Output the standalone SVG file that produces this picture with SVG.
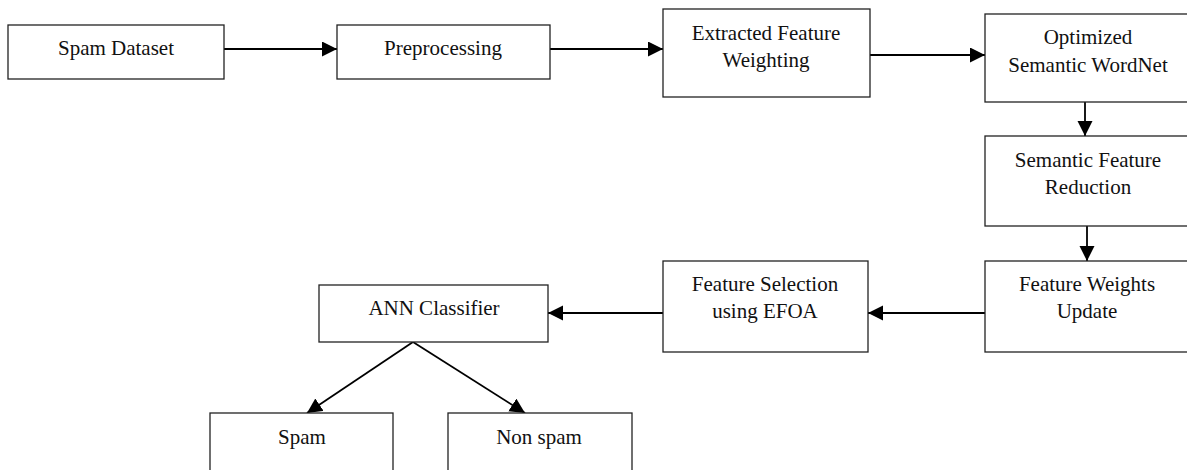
<svg xmlns="http://www.w3.org/2000/svg" width="1187" height="470" viewBox="0 0 1187 470">
<style>
.box{fill:#fff;stroke:#222;stroke-width:1.3}
.lbl{font-family:"Liberation Serif","Times New Roman",serif;font-size:21px;fill:#111;text-anchor:middle}
.con{stroke:#000;stroke-width:1.8;fill:none;marker-end:url(#ah)}
</style>
<defs>
<marker id="ah" markerUnits="userSpaceOnUse" markerWidth="16" markerHeight="16" refX="15" refY="7.5" orient="auto">
<path d="M0,0 L15,7.5 L0,15 z" fill="#000"/>
</marker>
</defs>
<rect width="1187" height="470" fill="#fff"/>
<g id="connectors">
<line class="con" x1="224" y1="49" x2="337" y2="49"/>
<line class="con" x1="550" y1="49" x2="663" y2="49"/>
<line class="con" x1="870" y1="55" x2="985" y2="55"/>
<line class="con" x1="1085" y1="102" x2="1085" y2="136"/>
<line class="con" x1="1087" y1="226" x2="1087" y2="261"/>
<line class="con" x1="985" y1="313" x2="868" y2="313"/>
<line class="con" x1="663" y1="313" x2="548" y2="313"/>
<line class="con" x1="413" y1="342" x2="307" y2="413"/>
<line class="con" x1="413" y1="342" x2="525" y2="413"/>
</g>
<g id="spam-dataset"><rect class="box" x="8" y="25" width="216" height="54"/><text class="lbl" x="116" y="55">Spam Dataset</text></g>
<g id="preprocessing"><rect class="box" x="337" y="25" width="213" height="54"/><text class="lbl" x="443" y="55">Preprocessing</text></g>
<g id="extracted"><rect class="box" x="663" y="9" width="207" height="88"/><text class="lbl" x="766" y="40">Extracted Feature</text><text class="lbl" x="766" y="67">Weighting</text></g>
<g id="optimized"><rect class="box" x="985" y="14" width="210" height="88"/><text class="lbl" x="1088" y="44">Optimized</text><text class="lbl" x="1088" y="72">Semantic WordNet</text></g>
<g id="reduction"><rect class="box" x="985" y="136" width="210" height="90"/><text class="lbl" x="1088" y="167">Semantic Feature</text><text class="lbl" x="1088" y="194">Reduction</text></g>
<g id="weights-update"><rect class="box" x="985" y="261" width="210" height="91"/><text class="lbl" x="1087" y="291">Feature Weights</text><text class="lbl" x="1087" y="318">Update</text></g>
<g id="feature-selection"><rect class="box" x="663" y="261" width="205" height="91"/><text class="lbl" x="765" y="291">Feature Selection</text><text class="lbl" x="765" y="318">using EFOA</text></g>
<g id="ann"><rect class="box" x="319" y="285" width="229" height="57"/><text class="lbl" x="434" y="315">ANN Classifier</text></g>
<g id="spam"><rect class="box" x="210" y="413" width="183" height="70"/><text class="lbl" x="302" y="444">Spam</text></g>
<g id="nonspam"><rect class="box" x="448" y="413" width="184" height="70"/><text class="lbl" x="539" y="444">Non spam</text></g>
</svg>
